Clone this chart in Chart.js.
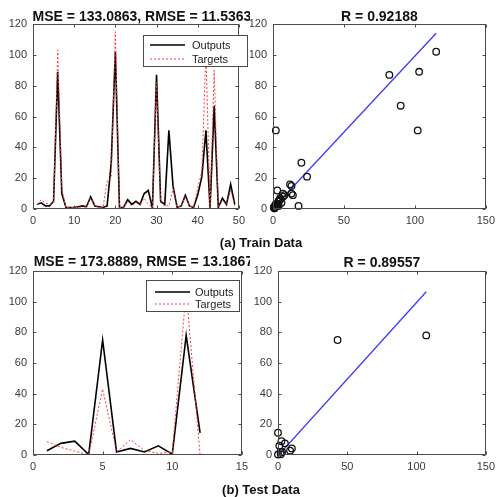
<!DOCTYPE html>
<html><head><meta charset="utf-8">
<script src="https://cdn.jsdelivr.net/npm/chart.js@4"></script>
<style>
html,body{margin:0;padding:0;background:#fff;width:500px;height:497px;overflow:hidden;}
canvas{position:absolute;}
.cap{position:absolute;font:bold 13px "Liberation Sans",Arial,sans-serif;color:#111;white-space:nowrap;line-height:15px;transform:translateX(-50%);}
</style></head><body>
<canvas id="c1" width="250" height="232" style="left:0;top:0;width:250px;height:232px"></canvas>
<canvas id="c2" width="250" height="232" style="left:250px;top:0;width:250px;height:232px"></canvas>
<canvas id="c3" width="253" height="232" style="left:0;top:250px;width:253px;height:232px"></canvas>
<canvas id="c4" width="250" height="232" style="left:250px;top:250px;width:250px;height:232px"></canvas>
<div class="cap" style="left:261px;top:235px">(a) Train Data</div>
<div class="cap" style="left:261px;top:482px">(b) Test Data</div>
<script>
// ---------- data ----------
const trainSamples = [1,2,3,4,5,6,7,8,9,10,11,12,13,14,15,16,17,18,19,20,21,22,23,24,25,26,27,28,29,30,31,32,33,34,35,36,37,38,39,40,41,42,43,44,45,46,47,48,49];
const trainOutputs = [3,4,2,2,5,89,10,1,1,1,1.5,2,1.5,8,2,1.5,1,2,30,102,1,1,6,3,5,3,10,12,0.5,87,5,3,51,15,1,2,9,2,1,9,21,51,0.5,67,1,7,3,16,3];
const trainTargets = [3,6,4,3,4,103,13,1,1,1,1,1.5,1,7,2,1,1,18,20,115,1,1,5,2,4,3,7,3,1,82,4,2,2,13,1,2,8,2,1,14,24,102,1,90,1,5,3,12,2];
const testSamples = [1,2,3,4,5,6,7,8,9,10,11,12];
const testOutputs = [2.8,7.6,9,0.3,75,2,4.3,2,6,0.5,78,14.5];
const testTargets = [8.7,5,2.5,0,43,2,10,3,1,2,107,0];
const trainFitX = [0,115];
const trainFitY = [0.5,114];
const testFitX = [0,107];
const testFitY = [-0.5,106.5];
const trainXTicks = [0,10,20,30,40,50];
const testXTicks = [0,5,10,15];
const regXTicks = [0,50,100,150];
const yTicks = [0,20,40,60,80,100,120];
const trainTitle = 'MSE = 133.0863, RMSE = 11.5363';
const testTitle = 'MSE = 173.8889, RMSE = 13.1867';
const trainR = 'R = 0.92188';
const testR = 'R = 0.89557';
const legendLabels = ['Outputs','Targets'];

// ---------- styling ----------
const FONT = '"Liberation Sans", Arial, sans-serif';
const AX = '#4a4a4a';
const OUT_COLOR = '#000000';
const TGT_COLOR = '#ff3b3b';

const framePlugin = {
  id: 'frame',
  afterDatasetsDraw(chart, args, o) {
    const {ctx, chartArea: a, scales: {x, y}} = chart;
    ctx.save();
    ctx.strokeStyle = AX; ctx.lineWidth = 1;
    const L = Math.round(a.left) + 0.5, R = Math.round(a.right) - 0.5;
    const T = Math.round(a.top) + 0.5, B = Math.round(a.bottom) - 0.5;
    ctx.beginPath();
    x.ticks.forEach(t => {
      const px = Math.round(x.getPixelForValue(t.value)) + 0.5;
      ctx.moveTo(px, B); ctx.lineTo(px, B - 3);
      ctx.moveTo(px, T); ctx.lineTo(px, T + 3);
    });
    y.ticks.forEach(t => {
      const py = Math.round(y.getPixelForValue(t.value)) + 0.5;
      ctx.moveTo(L, py); ctx.lineTo(L + 3, py);
      ctx.moveTo(R, py); ctx.lineTo(R - 3, py);
    });
    ctx.stroke();
    ctx.strokeRect(L, T, R - L, B - T);
    // title
    ctx.save();
    ctx.beginPath(); ctx.rect(0, 0, o.clipW || chart.width, chart.height); ctx.clip();
    ctx.fillStyle = '#111';
    ctx.font = 'bold 14px ' + FONT;
    ctx.textAlign = 'center'; ctx.textBaseline = 'alphabetic';
    ctx.fillText(o.title, (a.left + a.right) / 2 + (o.titleDx || 0), o.titleY);
    ctx.restore();
    // legend
    if (o.legend) {
      const g = o.legend;
      ctx.fillStyle = '#fff';
      ctx.fillRect(g.x, g.y, g.w, g.h);
      ctx.strokeStyle = AX; ctx.lineWidth = 1;
      ctx.strokeRect(g.x + 0.5, g.y + 0.5, g.w - 1, g.h - 1);
      ctx.font = '11px ' + FONT;
      ctx.textAlign = 'left'; ctx.textBaseline = 'middle';
      const ds = chart.data.datasets;
      legendLabels.forEach((lab, i) => {
        const d = ds.find(s => s.label === lab);
        const ly = g.y + g.row0 + i * g.rowH;
        ctx.beginPath();
        ctx.strokeStyle = d.borderColor; ctx.lineWidth = d.borderWidth;
        ctx.setLineDash(d.borderDash || []);
        ctx.moveTo(g.x + g.l0, ly); ctx.lineTo(g.x + g.l1, ly);
        ctx.stroke();
        ctx.setLineDash([]);
        ctx.fillStyle = '#222';
        ctx.fillText(lab, g.x + g.tx, ly + 0.5);
      });
    }
    ctx.restore();
  }
};

function axes(xT, xMin, xMax, yW, xH) {
  const tick = {color: '#3a3a3a', font: {family: FONT, size: 11}};
  return {
    x: {type: 'linear', min: xMin, max: xMax,
        afterBuildTicks: s => { s.ticks = xT.map(v => ({value: v})); },
        afterFit: s => { s.height = xH; },
        grid: {display: false, drawTicks: false}, border: {display: false},
        ticks: Object.assign({padding: 5, maxRotation: 0}, tick)},
    y: {type: 'linear', min: 0, max: 120,
        afterBuildTicks: s => { s.ticks = yTicks.map(v => ({value: v})); },
        afterFit: s => { s.width = yW; },
        grid: {display: false, drawTicks: false}, border: {display: false},
        ticks: Object.assign({padding: 6}, tick)}
  };
}

function seriesChart(id, samples, outs, tgts, xT, xMax, pad, yW, xH, title, titleY, legend, clipW) {
  return new Chart(document.getElementById(id), {
    type: 'line',
    data: {datasets: [
      {label: 'Targets', data: samples.map((s, i) => ({x: s, y: tgts[i]})),
       borderColor: TGT_COLOR, borderWidth: 1, borderDash: [2, 2], pointRadius: 0, order: 0, tension: 0},
      {label: 'Outputs', data: samples.map((s, i) => ({x: s, y: outs[i]})),
       borderColor: OUT_COLOR, borderWidth: 1.6, pointRadius: 0, order: 1, tension: 0}
    ]},
    options: {
      responsive: false, animation: false, events: [],
      layout: {padding: pad},
      scales: axes(xT, 0, xMax, yW, xH),
      plugins: {legend: {display: false}, tooltip: {enabled: false},
                frame: {title, titleY, legend, clipW, titleDx: 6}}
    },
    plugins: [framePlugin]
  });
}

function regChart(id, outs, tgts, fx, fy, pad, yW, xH, title, titleY) {
  return new Chart(document.getElementById(id), {
    type: 'scatter',
    data: {datasets: [
      {label: 'Fit', type: 'line', data: fx.map((v, i) => ({x: v, y: fy[i]})),
       borderColor: '#3a3aff', borderWidth: 1.3, pointRadius: 0, showLine: true, order: 1},
      {label: 'Data', data: tgts.map((t, i) => ({x: t, y: outs[i]})),
       pointStyle: 'circle', pointRadius: 3.3, borderWidth: 1.3,
       borderColor: '#111', backgroundColor: 'rgba(0,0,0,0)', clip: false, order: 0}
    ]},
    options: {
      responsive: false, animation: false, events: [],
      layout: {padding: pad},
      scales: axes(regXTicks, 0, 150, yW, xH),
      plugins: {legend: {display: false}, tooltip: {enabled: false},
                frame: {title, titleY}}
    },
    plugins: [framePlugin]
  });
}

seriesChart('c1', trainSamples, trainOutputs, trainTargets, trainXTicks, 50,
  {top: 24, right: 3, left: 0, bottom: 0}, 33, 23, trainTitle, 21,
  {x: 143, y: 35, w: 105, h: 32, row0: 10, rowH: 14, l0: 7, l1: 42, tx: 49}, 250);
regChart('c2', trainOutputs, trainTargets, trainFitX, trainFitY,
  {top: 24, right: 9, left: 0, bottom: 0}, 23, 23, trainR, 21);
seriesChart('c3', testSamples, testOutputs, testTargets, testXTicks, 15,
  {top: 21, right: 1, left: 0, bottom: 0}, 33, 27, testTitle, 16,
  {x: 146, y: 30, w: 94, h: 32, row0: 12, rowH: 12, l0: 9, l1: 44, tx: 49}, 250);
regChart('c4', testOutputs, testTargets, testFitX, testFitY,
  {top: 21, right: 10, left: 0, bottom: 0}, 28, 27, testR, 17);
</script>
</body></html>
